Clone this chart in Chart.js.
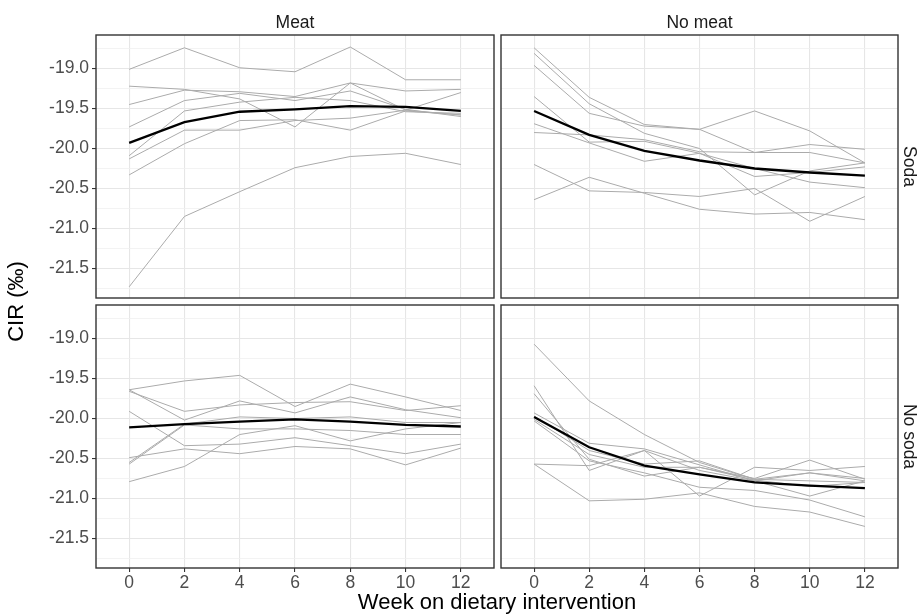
<!DOCTYPE html>
<html>
<head>
<meta charset="utf-8">
<script src="https://cdn.jsdelivr.net/npm/chart.js@4.4.1/dist/chart.umd.min.js"></script>
<style>
  html, body { margin: 0; padding: 0; background: #fff; }
  #wrap { position: relative; width: 919px; height: 616px; }
  #wrap canvas { position: absolute; left: 0; top: 0; }
</style>
</head>
<body>
<div id="wrap">
  <canvas id="frame" width="919" height="616"></canvas>
  <canvas id="p00" width="919" height="616"></canvas>
  <canvas id="p01" width="919" height="616"></canvas>
  <canvas id="p10" width="919" height="616"></canvas>
  <canvas id="p11" width="919" height="616"></canvas>
</div>
<script>
const weeks = [0, 2, 4, 6, 8, 10, 12];
const yBreaks = [-19.0, -19.5, -20.0, -20.5, -21.0, -21.5];
const yMinorBreaks = [-18.75, -19.25, -19.75, -20.25, -20.75, -21.25, -21.75];
const colLabels = ["Meat", "No meat"];
const rowLabels = ["Soda", "No soda"];

// Meat / Soda
const meatSodaSubjects = [
  [-19.01, -18.74, -18.99, -19.04, -18.73, -19.14, -19.14],
  [-19.22, -19.26, -19.38, -19.73, -19.18, -19.52, -19.58],
  [-19.45, -19.27, -19.29, -19.35, -19.18, -19.28, -19.26],
  [-19.73, -19.40, -19.31, -19.40, -19.28, -19.51, -19.60],
  [-20.09, -19.53, -19.42, -19.36, -19.40, -19.54, -19.56],
  [-20.13, -19.77, -19.77, -19.65, -19.62, -19.52, -19.30],
  [-20.33, -19.94, -19.65, -19.64, -19.77, -19.53, -19.58],
  [-21.73, -20.85, -20.54, -20.24, -20.10, -20.06, -20.20],
];
const meatSodaMean = [-19.93, -19.67, -19.54, -19.51, -19.47, -19.48, -19.53];

// No meat / Soda
const noMeatSodaSubjects = [
  [-18.74, -19.36, -19.70, -19.76, -19.53, -19.78, -20.18],
  [-18.81, -19.44, -19.81, -20.00, -20.58, -20.28, -20.18],
  [-18.96, -19.56, -19.72, -19.76, -20.05, -19.95, -20.01],
  [-19.35, -19.92, -19.91, -20.06, -20.35, -20.30, -20.23],
  [-19.69, -19.93, -20.16, -20.06, -20.25, -20.42, -20.49],
  [-19.80, -19.83, -19.89, -20.04, -20.05, -20.05, -20.18],
  [-20.20, -20.53, -20.55, -20.60, -20.50, -20.91, -20.60],
  [-20.64, -20.36, -20.56, -20.76, -20.82, -20.80, -20.89],
];
const noMeatSodaMean = [-19.53, -19.83, -20.03, -20.15, -20.25, -20.30, -20.34];

// Meat / No soda
const meatNoSodaSubjects = [
  [-19.64, -19.53, -19.46, -19.85, -19.57, -19.73, -19.90],
  [-19.66, -19.91, -19.83, -19.80, -19.79, -19.90, -19.84],
  [-19.64, -20.02, -19.78, -19.93, -19.73, -19.89, -19.99],
  [-19.91, -20.34, -20.32, -20.24, -20.34, -20.44, -20.32],
  [-20.49, -20.38, -20.44, -20.35, -20.38, -20.58, -20.37],
  [-20.55, -20.07, -19.98, -20.00, -19.98, -20.05, -20.05],
  [-20.57, -20.08, -20.13, -20.13, -20.15, -20.20, -20.20],
  [-20.79, -20.60, -20.20, -20.09, -20.28, -20.13, -20.05],
];
const meatNoSodaMean = [-20.11, -20.07, -20.04, -20.01, -20.04, -20.08, -20.10];

// No meat / No soda
const noMeatNoSodaSubjects = [
  [-19.07, -19.78, -20.20, -20.55, -20.76, -20.68, -20.78],
  [-19.59, -20.65, -20.40, -20.97, -20.61, -20.65, -20.60],
  [-19.69, -20.51, -20.72, -20.61, -20.75, -20.52, -20.76],
  [-19.93, -20.31, -20.38, -20.58, -20.78, -20.68, -20.75],
  [-19.97, -20.40, -20.57, -20.53, -20.76, -20.78, -20.80],
  [-20.01, -20.45, -20.61, -20.61, -20.77, -20.85, -20.80],
  [-20.03, -20.53, -20.68, -20.86, -20.90, -21.02, -21.23],
  [-20.57, -20.59, -20.40, -20.65, -20.78, -20.97, -20.78],
  [-20.57, -21.03, -21.01, -20.93, -21.10, -21.17, -21.35],
];
const noMeatNoSodaMean = [-19.98, -20.36, -20.59, -20.70, -20.80, -20.84, -20.87];

const FONT = "'Liberation Sans', Arial, sans-serif";
const W = 919, H = 616;
const cols = [{ left: 96, right: 494 }, { left: 501, right: 898 }];
const rows = [{ top: 35, bottom: 298 }, { top: 305, bottom: 568 }];
const Y_AXIS_W = 96, X_AXIS_H = 30, STRIP_TOP_H = 35, STRIP_RIGHT_W = 21;

const isMajor = (v) => yBreaks.includes(v);

const panelBorder = {
  id: "panelBorder",
  afterDatasetsDraw(chart) {
    const { ctx, chartArea: a } = chart;
    ctx.save();
    ctx.strokeStyle = "#333333";
    ctx.lineWidth = 1.4;
    ctx.strokeRect(a.left, a.top, a.right - a.left, a.bottom - a.top);
    ctx.restore();
  },
};

function toPoints(values) {
  return weeks.map((w, i) => ({ x: w, y: values[i] }));
}

function drawPanel(id, r, c, subjects, mean) {
  const showY = c === 0, showX = r === 1;
  const hasTop = r === 0, hasRight = c === 1;
  const col = cols[c], row = rows[r];

  const datasets = [
    {
      data: toPoints(mean),
      borderColor: "#000000",
      borderWidth: 2.3,
      pointRadius: 0,
      order: 0,
    },
  ].concat(
    subjects.map((s) => ({
      data: toPoints(s),
      borderColor: "#ababab",
      borderWidth: 1,
      pointRadius: 0,
      order: 1,
    }))
  );

  const scales = {
    x: {
      type: "linear",
      min: -1.2,
      max: 13.2,
      afterBuildTicks: (s) => { s.ticks = weeks.map((v) => ({ value: v })); },
      afterFit: (s) => { s.height = showX ? X_AXIS_H : 0; },
      grid: {
        color: "#e6e6e6",
        lineWidth: 1.1,
        drawTicks: showX,
        tickLength: 4,
        tickColor: "#333333",
      },
      border: { display: false },
      ticks: {
        display: showX,
        autoSkip: false,
        maxRotation: 0,
        padding: 1,
        color: "#4d4d4d",
        font: { family: FONT, size: 17.5 },
      },
    },
    y: {
      type: "linear",
      min: -21.87,
      max: -18.58,
      afterBuildTicks: (s) => {
        s.ticks = yMinorBreaks.concat(yBreaks).sort((a, b) => a - b).map((v) => ({ value: v }));
      },
      afterFit: (s) => { s.width = showY ? Y_AXIS_W : 0; },
      grid: {
        color: (ctx) => (isMajor(ctx.tick.value) ? "#e6e6e6" : "#f0f0f0"),
        lineWidth: (ctx) => (isMajor(ctx.tick.value) ? 1.1 : 0.8),
        drawTicks: showY,
        tickLength: 4,
        tickColor: (ctx) => (isMajor(ctx.tick.value) ? "#333333" : "rgba(0,0,0,0)"),
      },
      border: { display: false },
      ticks: {
        display: showY,
        autoSkip: false,
        padding: 3,
        color: "#4d4d4d",
        font: { family: FONT, size: 17.5 },
        callback: (v) => (isMajor(v) ? v.toFixed(1) : ""),
      },
    },
  };

  if (hasTop) {
    scales.stripTop = {
      type: "linear",
      position: "top",
      afterFit: (s) => { s.height = STRIP_TOP_H; },
      grid: { display: false },
      border: { display: false },
      ticks: { display: false },
      title: {
        display: true,
        text: colLabels[c],
        color: "#1a1a1a",
        padding: { top: 13, bottom: 0 },
        font: { family: FONT, size: 17.5 },
      },
    };
  }
  if (hasRight) {
    scales.stripRight = {
      type: "linear",
      position: "right",
      afterFit: (s) => { s.width = STRIP_RIGHT_W; },
      grid: { display: false },
      border: { display: false },
      ticks: { display: false },
      title: {
        display: true,
        text: rowLabels[r],
        color: "#1a1a1a",
        padding: { top: 0, bottom: 0 },
        font: { family: FONT, size: 17.5 },
      },
    };
  }

  const padding = {
    left: col.left - (showY ? Y_AXIS_W : 0),
    right: W - col.right - (hasRight ? STRIP_RIGHT_W : 0),
    top: row.top - (hasTop ? STRIP_TOP_H : 0),
    bottom: H - row.bottom - (showX ? X_AXIS_H : 0),
  };

  return new Chart(document.getElementById(id), {
    type: "line",
    data: { datasets },
    options: {
      responsive: false,
      animation: false,
      devicePixelRatio: 1,
      layout: { padding },
      elements: { line: { tension: 0 } },
      plugins: { legend: { display: false }, tooltip: { enabled: false } },
      scales,
    },
    plugins: [panelBorder],
  });
}

// shared axis titles
new Chart(document.getElementById("frame"), {
  type: "line",
  data: { datasets: [] },
  options: {
    responsive: false,
    animation: false,
    devicePixelRatio: 1,
    layout: { padding: { left: 0, right: W - cols[1].right, top: rows[0].top, bottom: 0 } },
    plugins: { legend: { display: false }, tooltip: { enabled: false } },
    scales: {
      x: {
        type: "linear",
        afterFit: (s) => { s.height = H - rows[1].bottom; },
        grid: { display: false },
        border: { display: false },
        ticks: { display: false },
        title: {
          display: true,
          text: "Week on dietary intervention",
          color: "#000000",
          padding: { top: 0, bottom: 0 },
          font: { family: FONT, size: 22 },
        },
      },
      y: {
        type: "linear",
        afterFit: (s) => { s.width = cols[0].left; },
        grid: { display: false },
        border: { display: false },
        ticks: { display: false },
        title: {
          display: true,
          text: "CIR (‰)",
          color: "#000000",
          padding: { top: 4, bottom: 0 },
          font: { family: FONT, size: 22 },
        },
      },
    },
  },
});

drawPanel("p00", 0, 0, meatSodaSubjects, meatSodaMean);
drawPanel("p01", 0, 1, noMeatSodaSubjects, noMeatSodaMean);
drawPanel("p10", 1, 0, meatNoSodaSubjects, meatNoSodaMean);
drawPanel("p11", 1, 1, noMeatNoSodaSubjects, noMeatNoSodaMean);
</script>
</body>
</html>
